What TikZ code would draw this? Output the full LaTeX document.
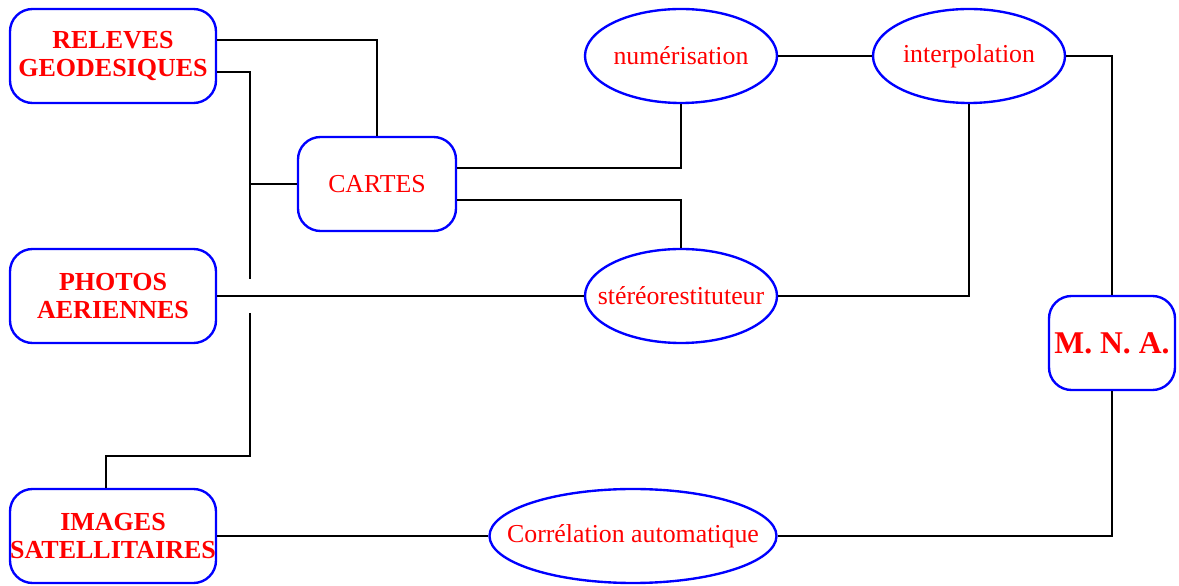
\documentclass[tikz,border=0pt]{standalone}
\usepackage{fontspec}
\setmainfont{Liberation Serif}
\usetikzlibrary{shapes.geometric}

\begin{document}
\begin{tikzpicture}[
    boite/.style={draw=blue, line width=1.35pt, rounded corners=0.45cm, text=red, inner sep=0pt,
      minimum width=4.12cm, minimum height=1.88cm, align=center,
      font=\bfseries\fontsize{14.8}{16.4}\selectfont},
    bulle/.style={draw=blue, line width=1.35pt, ellipse, text=red, inner xsep=-0.8cm, inner ysep=0pt,
      minimum width=3.84cm, minimum height=1.88cm, font=\fontsize{14.7}{17}\selectfont},
    lien/.style={line width=1.1pt, black}
  ]
      \useasboundingbox (0, 0) rectangle (23.58, 11.72);

      \node[boite] (releves) at(2.26, 10.6) {RELEVES\\GEODESIQUES};
      \node[boite] (photos) at(2.26, 5.8) {PHOTOS\\AERIENNES};
      \node[boite] (images) at(2.26, 1.0) {IMAGES\\SATELLITAIRES};
      \node[boite, minimum width=3.16cm, font=\fontsize{14.7}{17}\selectfont] (cartes) at(7.54, 8.04) {CARTES};
      \node[boite, minimum width=2.52cm, font=\bfseries\fontsize{18}{20}\selectfont] (mna) at(22.24, 4.86) {M. N. A.};

      \node[bulle] (numer) at(13.62, 10.6) {numérisation};
      \node[bulle] (interp) at(19.38, 10.6) {interpolation};
      \node[bulle] (stereo) at(13.62, 5.8) {stéréorestituteur};
      \node[bulle, minimum width=5.74cm] (correl) at(12.66, 1.0) {Corrélation automatique};

      \coordinate (coupeA) at(5.0, 6.14);
      \coordinate (coupeB) at(5.0, 5.46);
      \coordinate (coude) at(5.0, 2.6);

      \draw[lien] ([yshift=0.32cm]releves.east) -| (cartes.north);
      \draw[lien] ([yshift=-0.32cm]releves.east) -| (coupeA);
      \draw[lien] (cartes.west) -- (cartes.west -| coupeA);
      \draw[lien] (coupeB) -- (coude) -| ([xshift=-0.14cm]images.north);
      \draw[lien] (photos.east) -- (stereo.west);
      \draw[lien] ([yshift=0.32cm]cartes.east) -| (numer.south);
      \draw[lien] ([yshift=-0.32cm]cartes.east) -| (stereo.north);
      \draw[lien] (numer) -- (interp);
      \draw[lien] (interp.east) -| (mna.north);
      \draw[lien] (interp.south) |- (stereo.east);
      \draw[lien] (images.east) -- (correl.west);
      \draw[lien] (correl.east) -| (mna.south);

    \end{tikzpicture}
\end{document}
